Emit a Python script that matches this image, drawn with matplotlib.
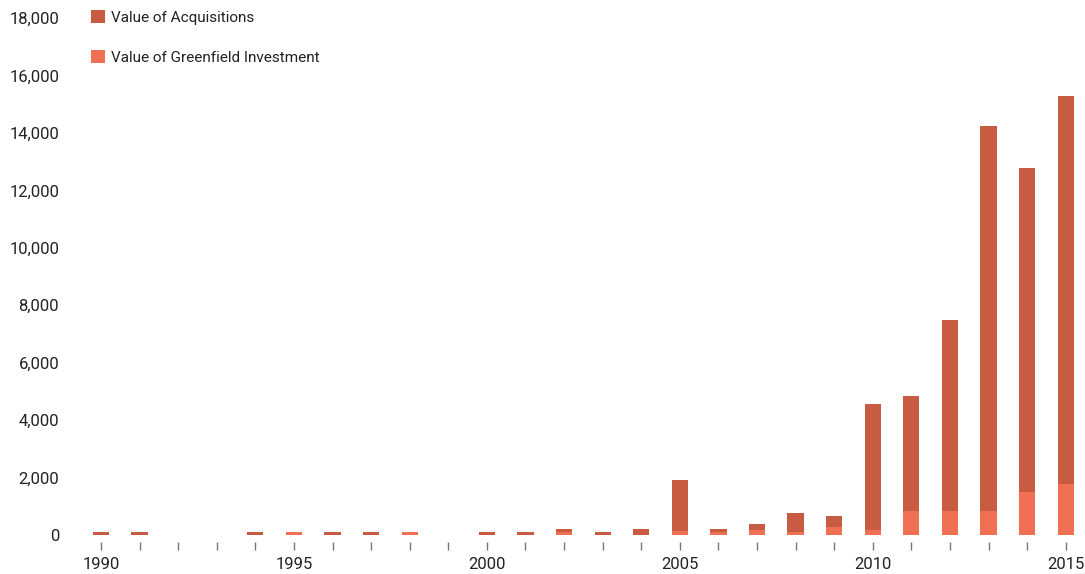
import matplotlib
matplotlib.use("Agg")
import matplotlib.pyplot as plt

# Datos
years = list(range(1990, 2016))
acquisitions = [100, 100, 0, 0, 100, 0, 100, 100, 0, 0, 100, 100, 100, 100, 200,
                1780, 100, 200, 670, 380, 4400, 4010, 6630, 13400, 11270, 13510]
greenfield = [0, 0, 0, 0, 0, 100, 0, 0, 100, 0, 0, 0, 100, 0, 0,
              150, 100, 170, 100, 280, 170, 840, 840, 840, 1500, 1780]
yticks = [0, 2000, 4000, 6000, 8000, 10000, 12000, 14000, 16000, 18000]
labels = ["Value of Acquisitions", "Value of Greenfield Investment"]

col_acq = "#c85c42"
col_gf = "#f07054"

plt.rcParams['font.family'] = ['Roboto', 'DejaVu Sans']

fig = plt.figure(figsize=(10.85, 5.74), dpi=100)
ax = fig.add_axes([80 / 1085, 39 / 574, 1005 / 1085, 517 / 574])

b_gf = ax.bar(years, greenfield, width=0.42, color=col_gf, label=labels[1])
b_acq = ax.bar(years, acquisitions, width=0.42, bottom=greenfield, color=col_acq, label=labels[0])

ax.set_xlim(1989.456, 2015.5)
ax.set_ylim(0, 18000)

for s in ax.spines.values():
    s.set_visible(False)
ax.spines['bottom'].set_position(('outward', 5))

ax.set_xticks(years)
ax.set_xticklabels([str(y) if y % 5 == 0 else "" for y in years])
ax.tick_params(axis='x', length=5.8, width=1, color="#777777", pad=5,
               labelsize=12, labelcolor="#222222")
ax.set_yticks(yticks)
ax.set_yticklabels([f"{v:,}" for v in yticks])
ax.tick_params(axis='y', length=0, pad=15, labelsize=12, labelcolor="#222222")

leg = ax.legend(handles=[b_acq, b_gf], loc='upper left', bbox_to_anchor=(5 / 1005, 1.027),
                frameon=False, fontsize=11, handlelength=0.9, handleheight=0.9,
                handletextpad=0.4, labelspacing=1.65, borderaxespad=0)
for t in leg.get_texts():
    t.set_color("#222222")

fig.savefig("out.png", dpi=100)
